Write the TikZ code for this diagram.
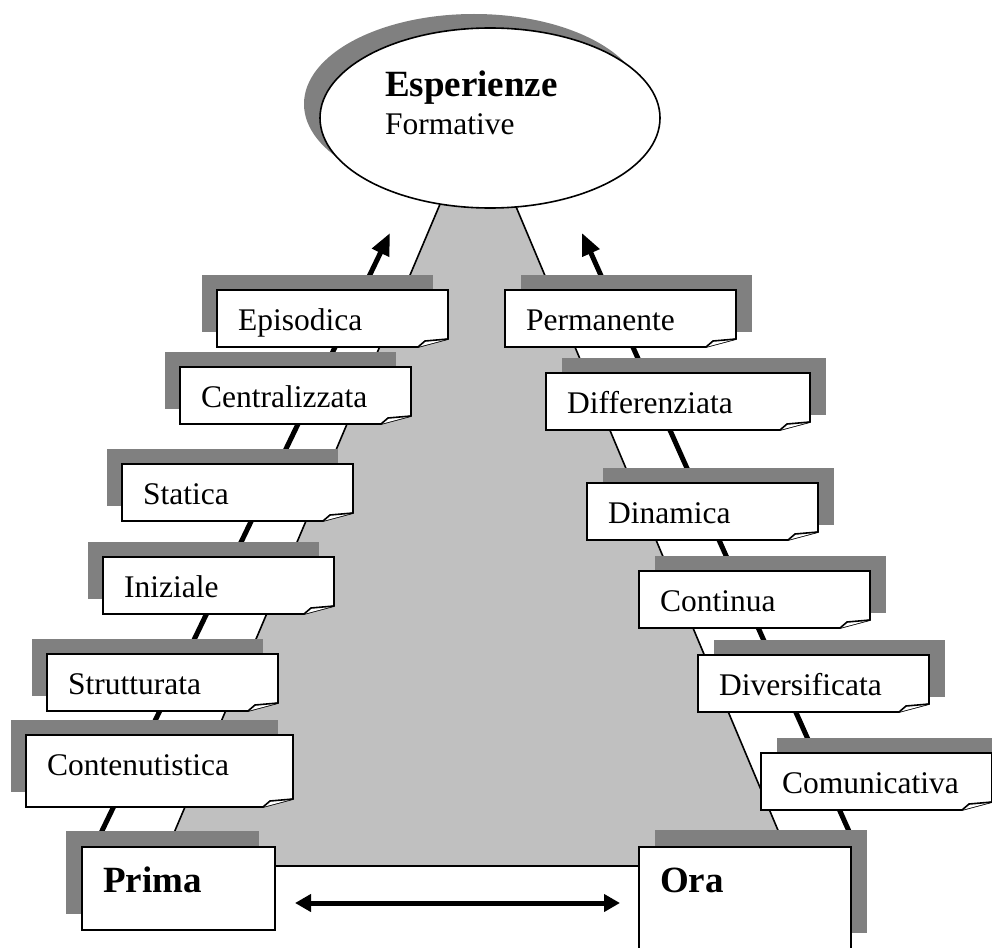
\documentclass[tikz,border=0pt]{standalone}
\usepackage{fontspec}
\setmainfont{Liberation Serif}
\usetikzlibrary{arrows.meta,shapes.geometric}

\definecolor{grigioombra}{HTML}{808080}
\definecolor{grigiochiaro}{HTML}{C0C0C0}

\tikzset{
	ombra/.style={fill=grigioombra},
	carta/.style={draw=black,fill=white,line width=1.6pt,line join=miter},
	etichetta/.style={inner sep=0pt,anchor=base west,font=\fontsize{31.5}{36}\selectfont},
	titolo/.style={inner sep=0pt,anchor=base west,font=\fontsize{37}{42}\selectfont\bfseries},
	freccia/.style={line width=5pt,-{Triangle[length=22pt,width=18pt]}},
	doppia/.style={line width=5pt,{Triangle[length=16pt,width=17pt]}-{Triangle[length=16pt,width=17pt]}}
}

% foglio: name, left, top, width, height, shadow dx, text
\newcommand{\foglio}[7]{
	\fill[ombra] ({#2+#6},{#3-15}) rectangle ++(#4,#5);
	\filldraw[carta] (#2,#3) -- ++(#4,0) -- ++(0,{#5-8}) -- ({#2+#4-30},{#3+#5}) -- (#2,{#3+#5}) -- cycle;
	\draw[carta] ({#2+#4-30},{#3+#5}) -- ({#2+#4-23},{#3+#5-6}) -- ({#2+#4},{#3+#5-8});
	\node[etichetta] (#1) at ({#2+21},{#3+40}) {#7};
}

\begin{document}
\begin{tikzpicture}[x=1pt,y=-1pt]
	\useasboundingbox (0,0) rectangle (992,947);
	\clip (0,0) rectangle (992,947);

	% cono grigio
	\coordinate (TA) at (446,190);
	\coordinate (TB) at (509,190);
	\coordinate (TC) at (793,866);
	\coordinate (TD) at (160,866);
	\filldraw[fill=grigiochiaro,draw=black,line width=1.6pt] (TA)--(TB)--(TC)--(TD)--cycle;

	% ellisse
	\node[ellipse,ombra,minimum width=340pt,minimum height=180pt] (ombracima) at (474,104) {};
	\node[ellipse,carta,minimum width=340pt,minimum height=180pt] (cima) at (490,118) {};
	\node[titolo] (esp) at (385,97) {Esperienze};
	\node[etichetta] (form) at (385,135) {Formative};

	% frecce
	\coordinate (SB) at (100,835);
	\coordinate (SA) at (390,233);
	\coordinate (DB) at (852,838);
	\coordinate (DA) at (582,233);
	\draw[freccia] (SB) -- (SA);
	\draw[freccia] (DB) -- (DA);

	% sinistra
	\foglio{epi}{217}{290}{231}{57}{-15}{Episodica}
	\foglio{cen}{180}{367}{231}{57}{-15}{Centralizzata}
	\foglio{sta}{122}{464}{231}{57}{-15}{Statica}
	\foglio{ini}{103}{557}{231}{57}{-15}{Iniziale}
	\foglio{str}{47}{654}{231}{57}{-15}{Strutturata}
	\foglio{con}{26}{735}{267}{72}{-15}{Contenutistica}

	% destra
	\foglio{per}{505}{290}{231}{57}{16}{Permanente}
	\foglio{dif}{546}{373}{264}{57}{16}{Differenziata}
	\foglio{din}{587}{483}{231}{57}{16}{Dinamica}
	\foglio{cnt}{639}{571}{231}{57}{16}{Continua}
	\foglio{div}{698}{655}{231}{57}{16}{Diversificata}
	\foglio{com}{761}{753}{231}{57}{16}{Comunicativa}

	% prima / ora
	\fill[ombra] (66,831) rectangle (259,914);
	\filldraw[carta] (82,847) rectangle (275,930);
	\node[titolo] (prima) at (103,892) {Prima};
	\fill[ombra] (655,830) rectangle (867,933);
	\filldraw[carta] (639,847) rectangle (851,950);
	\node[titolo] (ora) at (660,892) {Ora};

	\coordinate (FA) at (295,903);
	\coordinate (FB) at (620,903);
	\draw[doppia] (FA) -- (FB);
\end{tikzpicture}
\end{document}
